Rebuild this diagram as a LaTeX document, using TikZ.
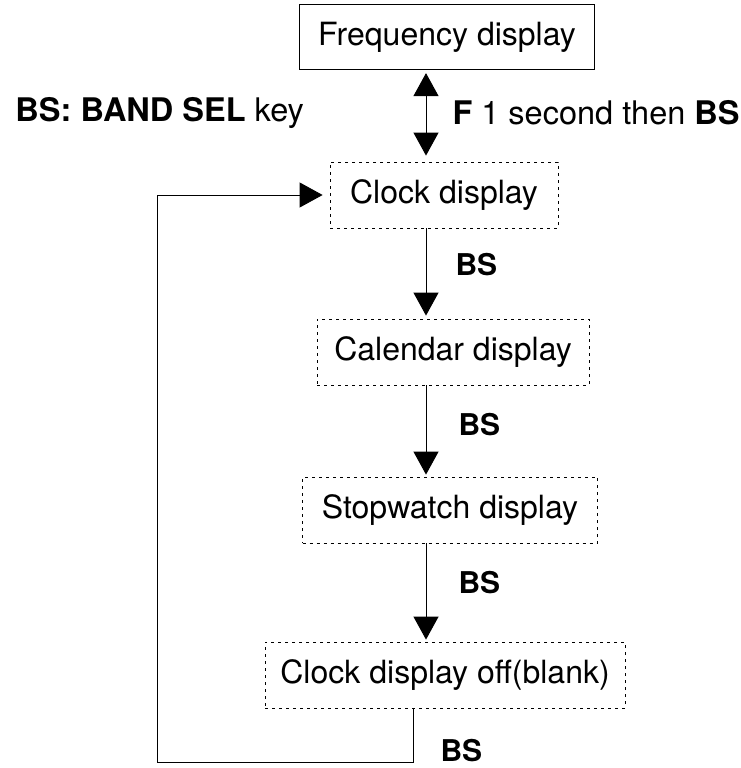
\documentclass[tikz,border=0pt]{standalone}
\usepackage{fontspec}
\setmainfont{TeX Gyre Heros}
\usetikzlibrary{arrows.meta, positioning}

\begin{document}
\begin{tikzpicture}[
    x=1pt, y=-1pt, line width=1pt,
    >={Triangle[length=23pt, width=25pt]},
    disp/.style={draw, line width=0.8pt, dash pattern=on 3pt off 4pt, minimum height=66pt, inner sep=0pt, font=\fontsize{32}{38}\selectfont},
    freqbox/.style={disp, solid, line width=1.2pt},
    key/.style={anchor=west, inner sep=0pt, font=\fontsize{30}{36}\selectfont\bfseries},
    note/.style={anchor=west, inner sep=0pt, font=\fontsize{32.5}{38}\selectfont}
]
    \useasboundingbox (0,0) rectangle (740,768);

    % display boxes
    \node[freqbox, minimum width=295pt, minimum height=65pt] (freq) at (447,37) {Frequency display};
    \node[disp, minimum width=228pt] (clock) at (444,195) {Clock display};
    \node[disp, minimum width=272pt] (cal) at (453,352) {Calendar display};
    \node[disp, minimum width=295pt] (stop) at (450,510) {Stopwatch display};
    \node[disp, minimum width=360pt] (off) at (445,675) {Clock display off(blank)};

    % line of the arrows and of the way back
    \coordinate (spine) at (426,0);
    \coordinate (ret) at (413,0);
    \coordinate (corner) at (157,762);

    % labels
    \node[note] (legend) at (15,113) {\textbf{BS: BAND SEL} key};
    \node[note] (hold) at (452,113) {\textbf{F} 1 second then \textbf{BS}};
    \node[key] (bs1) at (455,265) {BS};
    \node[key] (bs2) at (458,425) {BS};
    \node[key] (bs3) at (458,583) {BS};
    \node[key] (bs4) at (440,751) {BS};

    % arrows
    \draw[<->, shorten <=3pt, shorten >=6pt] (freq.south -| spine) -- (clock.north -| spine);
    \draw[->, shorten >=3pt] (clock.south -| spine) -- (cal.north -| spine);
    \draw[->, shorten >=2pt] (cal.south -| spine) -- (stop.north -| spine);
    \draw[->, shorten >=2pt] (stop.south -| spine) -- (off.north -| spine);
    \draw[->, line width=0.8pt, shorten >=7pt] (off.south -| ret) |- (corner) |- (clock.west);
\end{tikzpicture}
\end{document}
